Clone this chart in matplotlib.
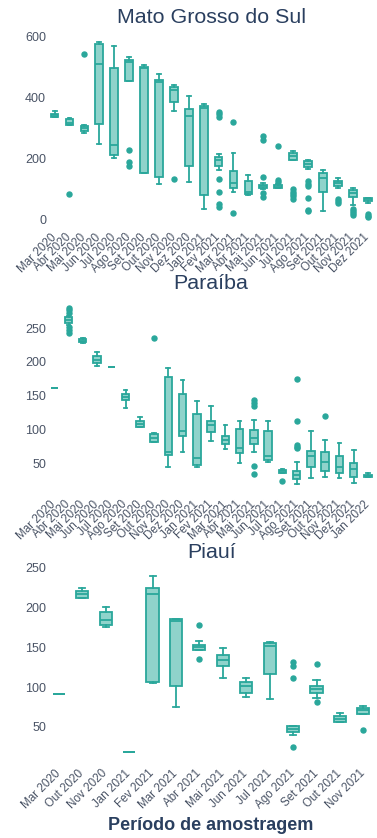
import matplotlib
matplotlib.use("Agg")
import matplotlib.pyplot as plt
from matplotlib.transforms import offset_copy

plt.rcParams['font.family'] = ['Liberation Sans', 'DejaVu Sans']

TEAL = '#2aa79b'
FILL = '#8fd3cb'
INK = '#2a3f5f'
TICK_INK = '#4a5466'

# ---- Mato Grosso do Sul ----
ms_months = ['Mar 2020', 'Abr 2020', 'Mai 2020', 'Jun 2020', 'Jul 2020', 'Ago 2020',
             'Set 2020', 'Out 2020', 'Nov 2020', 'Dez 2020', 'Jan 2021', 'Fev 2021',
             'Mar 2021', 'Abr 2021', 'Mai 2021', 'Jun 2021', 'Jul 2021', 'Ago 2021',
             'Set 2021', 'Out 2021', 'Nov 2021', 'Dez 2021']
ms_low = [336, 311, 284, 249, 204, 456, 155, 117, 357, 124, 37, 164, 93, 82, 100, 104, 195, 168, 28, 106, 50, 55]
ms_q1 = [339, 311, 290, 314, 213, 456, 155, 142, 386, 177, 82, 178, 104, 84, 104, 105, 198, 172, 92, 110, 76, 63]
ms_median = [343, 319, 301, 510, 246, 517, 497, 453, 426, 342, 366, 195, 120, 90, 110, 108, 210, 183, 138, 120, 87, 68]
ms_q3 = [347, 330, 309, 577, 497, 525, 500, 459, 435, 365, 372, 207, 162, 128, 115, 115, 220, 192, 153, 128, 97, 72]
ms_high = [357, 335, 312, 585, 570, 533, 507, 478, 443, 407, 380, 215, 219, 148, 120, 118, 225, 197, 165, 136, 104, 73]
ms_outliers = [[], [85], [544], [], [], [229, 189, 177], [], [], [134], [], [],
               [355, 348, 339, 133, 90, 52, 43], [320, 24], [], [275, 262, 140, 87, 76],
               [244, 132, 125], [100, 92, 85, 77, 70], [126, 118, 110, 73, 33, 28], [],
               [70, 62, 55], [37, 30, 22, 15], [20, 14, 10]]

# ---- Paraíba ----
pb_months = ['Mar 2020', 'Abr 2020', 'Mai 2020', 'Jun 2020', 'Jul 2020', 'Ago 2020',
             'Set 2020', 'Out 2020', 'Nov 2020', 'Dez 2020', 'Jan 2021', 'Fev 2021',
             'Mar 2021', 'Abr 2021', 'Mai 2021', 'Jun 2021', 'Jul 2021', 'Ago 2021',
             'Set 2021', 'Out 2021', 'Nov 2021', 'Dez 2021', 'Jan 2022']
pb_low = [162, 255, 228, 194, 192, 132, 103, 82, 45, 66, 44, 83, 71, 51, 66, 52, 35, 19, 28, 30, 28, 21, 29]
pb_q1 = [162, 258, 229, 198, 192, 143, 103, 82, 62, 91, 47, 96, 79, 65, 78, 55, 36, 27, 44, 38, 36, 29, 30]
pb_median = [162, 262, 231, 203, 192, 148, 108, 88, 67, 98, 58, 107, 85, 72, 88, 60, 38, 33, 60, 52, 45, 42, 31]
pb_q3 = [162, 266, 234, 208, 192, 153, 113, 94, 178, 153, 123, 113, 90, 100, 99, 98, 40, 39, 68, 66, 60, 51, 33]
pb_high = [162, 268, 235, 214, 192, 158, 118, 95, 191, 173, 142, 134, 106, 112, 114, 113, 42, 52, 98, 84, 80, 69, 35]
pb_outliers = [[], [280, 276, 272, 252, 247, 242], [], [], [], [], [], [235], [], [], [], [],
               [], [], [143, 139, 135, 46, 34], [], [24], [174, 112, 77, 74, 72], [], [120],
               [], [], []]

# ---- Piauí ----
pi_months = ['Mar 2020', 'Out 2020', 'Nov 2020', 'Jan 2021', 'Fev 2021', 'Mar 2021',
             'Abr 2021', 'Mai 2021', 'Jun 2021', 'Jul 2021', 'Ago 2021', 'Set 2021',
             'Out 2021', 'Nov 2021']
pi_low = [91, 212, 175, 18, 105, 75, 146, 111, 88, 85, 40, 86, 56, 66]
pi_q1 = [91, 212, 178, 18, 107, 102, 147, 126, 93, 117, 44, 93, 56, 66]
pi_median = [91, 217, 184, 18, 217, 183, 150, 134, 102, 152, 48, 98, 60, 71]
pi_q3 = [91, 221, 194, 18, 224, 185, 153, 140, 107, 155, 51, 102, 64, 74]
pi_high = [91, 225, 201, 18, 239, 185, 158, 149, 112, 157, 51, 109, 68, 76]
pi_outliers = [[], [], [], [], [], [], [178, 135], [], [], [], [131, 127, 112, 25],
               [129, 81], [], [46]]

panels = [
    dict(title='Mato Grosso do Sul', months=ms_months, low=ms_low, q1=ms_q1, med=ms_median,
         q3=ms_q3, high=ms_high, out=ms_outliers, ylim=(-20, 614), ticks=[0, 200, 400, 600],
         rect=[0.125, 0.7303, 0.870, 0.2307]),
    dict(title='Paraíba', months=pb_months, low=pb_low, q1=pb_q1, med=pb_median,
         q3=pb_q3, high=pb_high, out=pb_outliers, ylim=(6, 293), ticks=[50, 100, 150, 200, 250],
         rect=[0.125, 0.4117, 0.870, 0.2315]),
    dict(title='Piauí', months=pi_months, low=pi_low, q1=pi_q1, med=pi_median,
         q3=pi_q3, high=pi_high, out=pi_outliers, ylim=(6, 250), ticks=[50, 100, 150, 200, 250],
         rect=[0.125, 0.0907, 0.870, 0.2319]),
]

fig = plt.figure(figsize=(3.77, 8.38), dpi=100)

for p in panels:
    ax = fig.add_axes(p['rect'])
    stats = []
    for i, m in enumerate(p['months']):
        stats.append(dict(label=m, whislo=p['low'][i], q1=p['q1'][i], med=p['med'][i],
                          q3=p['q3'][i], whishi=p['high'][i], fliers=p['out'][i]))
    n = len(stats)
    pos = list(range(n))
    w = 0.52
    ax.bxp(stats, positions=pos, widths=w, capwidths=w * 0.5, patch_artist=True,
           showfliers=True,
           boxprops=dict(facecolor=FILL, edgecolor=TEAL, linewidth=1.3),
           medianprops=dict(color=TEAL, linewidth=1.3),
           whiskerprops=dict(color=TEAL, linewidth=1.3),
           capprops=dict(color=TEAL, linewidth=1.3),
           flierprops=dict(marker='o', markerfacecolor=TEAL, markeredgecolor=TEAL,
                           markersize=3.6, linestyle='none'))
    ax.set_xlim(-0.5, n - 0.5)
    ax.set_ylim(*p['ylim'])
    ax.set_yticks(p['ticks'])
    ax.set_xticks(pos)
    ax.set_xticklabels(p['months'], rotation=45, ha='right', va='center',
                       rotation_mode='anchor', fontsize=8.4, color=TICK_INK)
    ax.tick_params(axis='both', length=0)
    ax.tick_params(axis='y', labelsize=9, pad=0.8, labelcolor=TICK_INK)
    ax.tick_params(axis='x', pad=7)
    for s in ax.spines.values():
        s.set_visible(False)
    ax.set_facecolor('white')
    trans = offset_copy(ax.transAxes, fig=fig, x=0, y=15, units='dots')
    ax.text(0.5, 1.0, p['title'], transform=trans, ha='center', va='center',
            fontsize=15.4, color=INK)

fig.text(0.56, 0.0155, 'Período de amostragem', ha='center', va='center',
         fontsize=13, fontweight='bold', color=INK)

fig.savefig('out.png', dpi=100, facecolor='white')
